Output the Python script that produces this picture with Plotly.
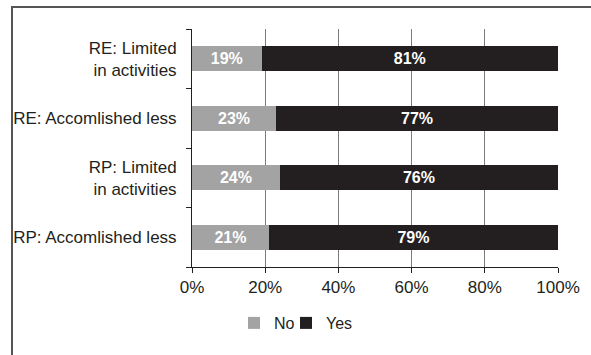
import plotly.graph_objects as go

categories = ["RE: Limited<br>in activities", "RE: Accomlished less",
              "RP: Limited<br>in activities", "RP: Accomlished less"]
no_values = [19, 23, 24, 21]
yes_values = [81, 77, 76, 79]
x_ticks = [0, 20, 40, 60, 80, 100]
x_ticklabels = ["0%", "20%", "40%", "60%", "80%", "100%"]

DARK = "#231f20"
GRAY = "#a3a3a3"
FONT = "Arial"

fig = go.Figure()
fig.add_trace(go.Bar(
    y=categories, x=no_values, orientation="h", name="No",
    marker=dict(color=GRAY, line=dict(width=0)),
    text=[f"{v}%" for v in no_values], textposition="inside",
    insidetextanchor="middle",
    textfont=dict(color="white", size=16, family=FONT, weight="bold"),
    legend="legend",
))
fig.add_trace(go.Bar(
    y=categories, x=yes_values, orientation="h", name="Yes",
    marker=dict(color=DARK, line=dict(width=0)),
    text=[f"{v}%" for v in yes_values], textposition="inside",
    insidetextanchor="middle",
    textfont=dict(color="white", size=16, family=FONT, weight="bold"),
    legend="legend2",
))

L, R, T, B = 192, 33, 29, 88
W, H = 591, 355
pw, ph = W - L - R, H - T - B

legend_common = dict(orientation="h", xanchor="left", yanchor="middle",
                     y=(T + ph - 323) / ph, font=dict(size=16, color=DARK),
                     itemwidth=30, bgcolor="rgba(0,0,0,0)")

fig.update_layout(
    width=W, height=H,
    margin=dict(l=L, r=R, t=T, b=B, pad=0),
    barmode="stack", bargap=0.58,
    plot_bgcolor="white", paper_bgcolor="white",
    font=dict(family=FONT, size=17, color=DARK),
    showlegend=True,
    legend=dict(x=(234 - L) / pw, **legend_common),
    legend2=dict(x=(286 - L) / pw, **legend_common),
    shapes=[dict(type="rect", xref="paper", yref="paper",
                 x0=(12 - L) / pw, x1=2.0, y0=-1.0, y1=(T + ph - 7) / ph,
                 line=dict(color="#555555", width=2), fillcolor="rgba(0,0,0,0)",
                 layer="above")],
)
fig.update_xaxes(
    range=[0, 100], tickvals=x_ticks, ticktext=x_ticklabels,
    showgrid=True, gridcolor="#7a7a7a", gridwidth=1,
    showline=True, linecolor=DARK, linewidth=1,
    ticks="outside", ticklen=5, tickcolor=DARK, tickwidth=1,
    tickfont=dict(size=17, color=DARK), zeroline=False,
)
fig.update_yaxes(
    categoryorder="array", categoryarray=categories[::-1],
    showline=True, linecolor=DARK, linewidth=1,
    ticks="outside", ticklen=5, tickcolor=DARK, tickson="boundaries",
    tickfont=dict(size=17, color=DARK), showgrid=False, ticklabelstandoff=11,
)

fig.write_html("out.html", config={"displayModeBar": False},
               post_script="document.body.style.margin='0px';")
